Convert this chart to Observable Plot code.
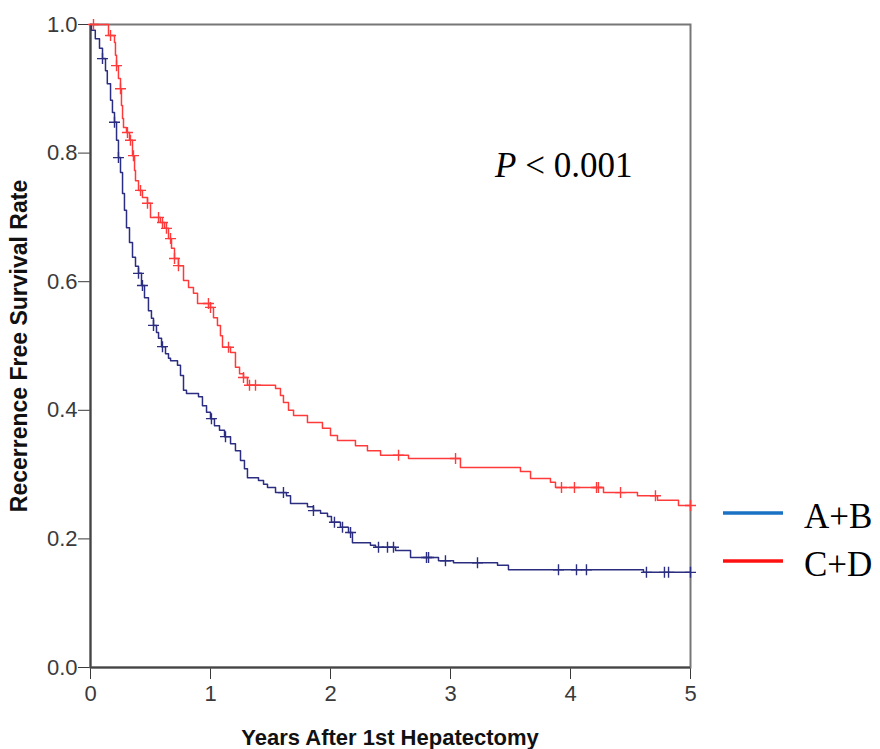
<!DOCTYPE html>
<html>
<head>
<meta charset="utf-8">
<script src="https://cdn.jsdelivr.net/npm/d3@7"></script>
<script src="https://cdn.jsdelivr.net/npm/@observablehq/plot@0.6"></script>
<style>
  body { margin: 0; background: #fff; }
  #chart svg { display: block; }
  #chart svg g[aria-label*="axis"] text { font-size: 22px; fill: #3a3a3a; }
</style>
</head>
<body>
<div id="chart"></div>
<script>
// ---- Data ----
const groups = ["A+B", "C+D"];
const xTicks = [0, 1, 2, 3, 4, 5];
const yTicks = [0, 0.2, 0.4, 0.6, 0.8, 1.0];

// A+B : step times (years) and survival after each step
const timesAB = [0, 0.008, 0.04, 0.075, 0.10, 0.125, 0.14, 0.167, 0.183, 0.20, 0.217, 0.233, 0.25, 0.267, 0.283, 0.30, 0.325, 0.35, 0.375, 0.40, 0.425, 0.45, 0.483, 0.508, 0.525, 0.55, 0.567, 0.592, 0.625, 0.65, 0.667, 0.725, 0.75, 0.775, 0.80, 0.90, 0.933, 0.967, 1.0, 1.033, 1.075, 1.117, 1.167, 1.208, 1.25, 1.283, 1.308, 1.40, 1.442, 1.475, 1.542, 1.633, 1.667, 1.808, 1.858, 1.917, 1.975, 2.008, 2.083, 2.15, 2.183, 2.333, 2.375, 2.542, 2.667, 2.90, 3.025, 3.392, 3.483, 4.608, 5.0];
const survAB  = [1.0, 0.991, 0.978, 0.963, 0.947, 0.928, 0.908, 0.882, 0.863, 0.848, 0.82, 0.793, 0.77, 0.737, 0.711, 0.684, 0.661, 0.638, 0.624, 0.613, 0.594, 0.575, 0.555, 0.543, 0.532, 0.521, 0.512, 0.499, 0.488, 0.481, 0.477, 0.47, 0.454, 0.431, 0.426, 0.421, 0.407, 0.397, 0.387, 0.376, 0.369, 0.359, 0.348, 0.337, 0.322, 0.309, 0.295, 0.291, 0.285, 0.28, 0.272, 0.267, 0.255, 0.25, 0.244, 0.24, 0.235, 0.226, 0.218, 0.21, 0.194, 0.19, 0.187, 0.182, 0.171, 0.166, 0.163, 0.159, 0.152, 0.148, 0.148];
const censorAB = [0.1, 0.2, 0.233, 0.40, 0.433, 0.525, 0.6, 1.008, 1.125, 1.608, 1.858, 2.033, 2.1, 2.167, 2.4, 2.475, 2.525, 2.8, 2.817, 2.958, 3.225, 3.9, 4.05, 4.133, 4.633, 4.783, 4.817, 5.0];

// C+D
const timesCD = [0, 0.15, 0.20, 0.208, 0.217, 0.233, 0.25, 0.258, 0.267, 0.275, 0.30, 0.325, 0.35, 0.367, 0.375, 0.40, 0.433, 0.475, 0.50, 0.583, 0.617, 0.65, 0.675, 0.70, 0.733, 0.775, 0.817, 0.858, 0.892, 1.0, 1.025, 1.058, 1.083, 1.10, 1.167, 1.208, 1.242, 1.275, 1.308, 1.542, 1.583, 1.608, 1.65, 1.692, 1.808, 1.933, 2.0, 2.058, 2.208, 2.308, 2.417, 2.65, 3.083, 3.583, 3.667, 3.833, 3.875, 4.275, 4.558, 4.725, 4.9, 5.0];
const survCD  = [1.0, 0.983, 0.972, 0.952, 0.936, 0.916, 0.90, 0.874, 0.854, 0.84, 0.832, 0.82, 0.796, 0.773, 0.757, 0.742, 0.731, 0.722, 0.70, 0.692, 0.683, 0.667, 0.652, 0.636, 0.625, 0.602, 0.591, 0.582, 0.566, 0.56, 0.544, 0.532, 0.516, 0.498, 0.49, 0.467, 0.457, 0.451, 0.439, 0.434, 0.423, 0.412, 0.40, 0.392, 0.381, 0.372, 0.361, 0.353, 0.345, 0.337, 0.33, 0.325, 0.311, 0.305, 0.294, 0.288, 0.28, 0.272, 0.267, 0.26, 0.252, 0.252];
const censorCD = [0.025, 0.167, 0.217, 0.25, 0.308, 0.333, 0.358, 0.417, 0.475, 0.567, 0.6, 0.633, 0.667, 0.7, 0.733, 0.983, 1.0, 1.15, 1.275, 1.325, 1.375, 2.567, 3.042, 3.925, 4.033, 4.217, 4.233, 4.417, 4.708, 5.0];

const curveColors = ["#2b2d80", "#ff3a3a"];
const legendColors = ["#1a72c4", "#ff1010"];

// ---- Build tables ----
function survAt(times, surv, t) {
  let s = surv[0];
  for (let i = 0; i < times.length; i++) if (times[i] <= t + 1e-9) s = surv[i];
  return s;
}
const steps = [
  ...timesAB.map((t, i) => ({t, s: survAB[i], g: groups[0]})),
  ...timesCD.map((t, i) => ({t, s: survCD[i], g: groups[1]}))
];
const censors = [
  ...censorAB.map(t => ({t, s: survAt(timesAB, survAB, t), g: groups[0]})),
  ...censorCD.map(t => ({t, s: survAt(timesCD, survCD, t), g: groups[1]}))
];

const plusSymbol = {
  draw(ctx, size) {
    const r = Math.sqrt(size / Math.PI);
    ctx.moveTo(-r, 0); ctx.lineTo(r, 0);
    ctx.moveTo(0, -r); ctx.lineTo(0, r);
  }
};

const W = 880, H = 749;
const chart = Plot.plot({
  width: W,
  height: H,
  marginLeft: 90,
  marginRight: 190,
  marginTop: 24,
  marginBottom: 82,
  style: {fontFamily: "'Liberation Sans', Arial, sans-serif", fontSize: "22px", color: "#3a3a3a", background: "#fff"},
  x: {domain: [0, 5], ticks: xTicks, tickFormat: d3.format("d"), tickSize: 12, tickPadding: 6, label: null},
  y: {domain: [0, 1], ticks: yTicks, tickFormat: d3.format(".1f"), tickSize: 12, tickPadding: 1, label: null},
  color: {domain: groups, range: curveColors},
  marks: [
    Plot.frame({stroke: "#777", strokeWidth: 2}),
    Plot.ruleX([0], {stroke: "#444", strokeWidth: 2}),
    Plot.ruleY([0], {stroke: "#444", strokeWidth: 2}),
    Plot.line(steps, {x: "t", y: "s", z: "g", stroke: "g", curve: "step-after", strokeWidth: 1.5}),
    Plot.dot(censors, {x: "t", y: "s", stroke: "g", fill: "none", symbol: plusSymbol, r: 5.5, strokeWidth: 1.4})
  ]
});
document.getElementById("chart").appendChild(chart);

// ---- Annotations: axis titles, P value, legend ----
const svg = d3.select(chart);
const ann = svg.append("g").attr("text-anchor", "start");
ann.append("text")
  .attr("transform", "translate(27,346) rotate(-90)")
  .attr("text-anchor", "middle")
  .attr("font-family", "'Liberation Sans', Arial, sans-serif")
  .attr("font-weight", "bold").attr("font-size", 23).attr("fill", "#111")
  .text("Recerrence Free Survival Rate");
ann.append("text")
  .attr("x", 390).attr("y", 745)
  .attr("text-anchor", "middle")
  .attr("font-family", "'Liberation Sans', Arial, sans-serif")
  .attr("font-weight", "bold").attr("font-size", 22).attr("fill", "#111")
  .text("Years After 1st Hepatectomy");

const p = ann.append("text")
  .attr("x", 495).attr("y", 177)
  .attr("text-anchor", "start")
  .attr("font-family", "'Liberation Serif', 'Times New Roman', serif")
  .attr("font-size", 35).attr("fill", "#000");
p.append("tspan").attr("font-style", "italic").text("P");
p.append("tspan").text(" < 0.001");

const legY = [513, 561];
groups.forEach((g, i) => {
  ann.append("line")
    .attr("x1", 723).attr("x2", 783).attr("y1", legY[i]).attr("y2", legY[i])
    .attr("stroke", legendColors[i]).attr("stroke-width", 3.5);
  ann.append("text")
    .attr("x", 804).attr("y", legY[i] + 15)
    .attr("text-anchor", "start")
    .attr("font-family", "'Liberation Serif', 'Times New Roman', serif")
    .attr("font-size", 35).attr("fill", "#000")
    .text(g);
});
</script>
</body>
</html>
